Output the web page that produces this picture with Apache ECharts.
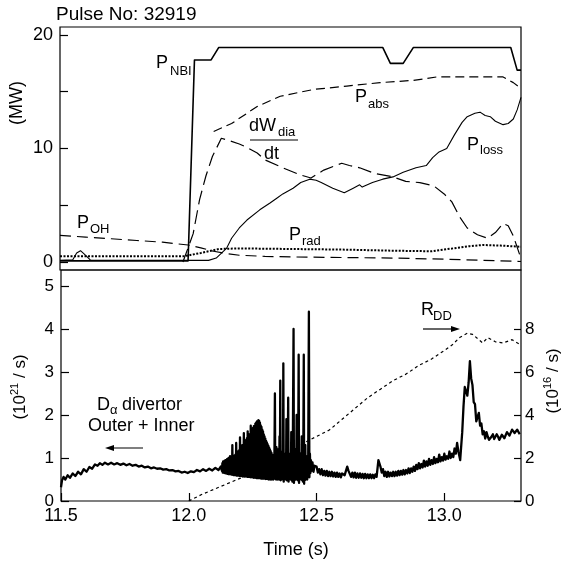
<!DOCTYPE html>
<html><head><meta charset="utf-8">
<script src="https://cdn.jsdelivr.net/npm/echarts@6/dist/echarts.min.js"></script>
<style>html,body{margin:0;padding:0;background:#fff}#c{width:562px;height:565px}</style>
</head><body><div id="c"></div>
<script>
// ---- Data (time in s, power in MW) ----
const timeTicks = [11.5, 12.0, 12.5, 13.0];
const mwTicks = [0, 5, 10, 15, 20];
const mwLabels = [0, 10, 20];
const leftTicks = [0, 1, 2, 3, 4, 5];
const rightTicks = [0, 2, 4, 6, 8];

const pNBI = [[11.5,0.1],[12.0,0.1],[12.025,17.8],[12.09,17.8],[12.12,18.9],[12.76,18.9],[12.79,17.5],[12.84,17.5],[12.88,18.9],[13.26,18.9],[13.285,16.9],[13.3,16.9]];
const pAbs = [[12.10,11.5],[12.17,12.2],[12.27,13.7],[12.36,14.6],[12.49,15.2],[12.62,15.5],[12.75,15.8],[12.88,16.0],[12.97,16.3],[13.23,16.3],[13.27,15.8],[13.3,15.3]];
const dWdt = [[11.98,0.0],[12.02,2.5],[12.045,5.5],[12.07,7.6],[12.095,9.3],[12.13,10.9],[12.16,10.7],[12.2,10.4],[12.23,10.1],[12.27,9.6],[12.3,9.0],[12.37,8.3],[12.435,7.7],[12.48,7.4],[12.53,8.1],[12.6,8.7],[12.63,8.5],[12.67,8.3],[12.73,7.8],[12.8,7.5],[12.85,7.1],[12.905,7.0],[12.96,6.7],[13.0,6.0],[13.03,5.3],[13.06,4.0],[13.09,3.0],[13.13,2.4],[13.17,2.1],[13.2,2.6],[13.23,3.4],[13.25,3.2],[13.27,2.3],[13.3,0.3]];
const pLoss = [[11.5,0.15],[11.55,0.2],[11.565,0.8],[11.58,1.0],[11.595,0.7],[11.62,0.15],[12.08,0.15],[12.11,0.35],[12.15,1.2],[12.17,2.1],[12.2,3.0],[12.23,3.7],[12.28,4.6],[12.32,5.2],[12.345,5.6],[12.37,6.0],[12.41,6.5],[12.44,7.0],[12.475,7.3],[12.5,7.2],[12.52,7.0],[12.565,6.5],[12.61,6.1],[12.645,6.5],[12.67,6.8],[12.68,6.6],[12.72,7.0],[12.76,7.3],[12.8,7.5],[12.84,7.9],[12.89,8.3],[12.93,8.5],[12.955,9.2],[12.98,9.7],[13.01,10.0],[13.04,11.2],[13.07,12.3],[13.09,12.8],[13.12,13.1],[13.14,13.2],[13.16,12.9],[13.18,12.8],[13.2,12.4],[13.23,12.1],[13.25,12.2],[13.27,12.6],[13.285,13.4],[13.3,14.5]];
const pOH = [[11.5,2.35],[11.6,2.2],[11.7,2.05],[11.8,1.9],[11.9,1.75],[12.0,1.5],[12.05,1.25],[12.1,0.95],[12.15,0.75],[12.2,0.6],[12.3,0.5],[12.4,0.45],[12.6,0.4],[12.8,0.35],[13.0,0.25],[13.2,0.12],[13.3,0.05]];
const pRad = [[11.5,0.5],[11.98,0.5],[12.05,0.8],[12.12,1.15],[12.2,1.2],[12.4,1.15],[12.6,1.1],[12.8,1.0],[12.95,0.95],[13.0,1.1],[13.05,1.25],[13.1,1.4],[13.15,1.5],[13.22,1.45],[13.3,1.35]];

// D-alpha divertor (10^21 /s): calm start
const dAlphaStart = [[11.500,0.32],[11.504,0.48],[11.510,0.56],[11.517,0.50],[11.526,0.60],[11.535,0.54],[11.546,0.64],[11.556,0.58],[11.567,0.68],[11.578,0.62],[11.589,0.74],[11.600,0.68],[11.611,0.79],[11.622,0.75],[11.633,0.85],[11.643,0.82],[11.652,0.88],[11.662,0.84],[11.672,0.89],[11.684,0.85],[11.696,0.89],[11.708,0.85],[11.720,0.88],[11.732,0.84],[11.744,0.87],[11.756,0.83],[11.768,0.86],[11.780,0.82],[11.792,0.84],[11.804,0.80],[11.816,0.82],[11.828,0.78],[11.840,0.80],[11.852,0.76],[11.864,0.78],[11.876,0.75],[11.888,0.76],[11.900,0.73],[11.912,0.74],[11.924,0.71],[11.936,0.72],[11.948,0.69],[11.960,0.70],[11.972,0.66],[11.984,0.68],[11.996,0.65],[12.008,0.69],[12.020,0.67],[12.032,0.72],[12.044,0.69],[12.056,0.74],[12.068,0.70],[12.080,0.75],[12.092,0.71],[12.104,0.77],[12.116,0.72],[12.125,0.80]];
// dense ELM band
const dAlphaElmBand = [[12.1300,0.70],[12.1315,0.88],[12.1330,0.66],[12.1345,0.92],[12.1360,0.68],[12.1375,0.90],[12.1390,0.65],[12.1405,0.94],[12.1420,0.67],[12.1435,0.95],[12.1450,0.64],[12.1465,0.93],[12.1480,0.66],[12.1495,0.97],[12.1510,0.63],[12.1525,0.96],[12.1540,0.65],[12.1555,1.00],[12.1570,0.62],[12.1585,0.99],[12.1600,0.64],[12.1615,1.04],[12.1630,0.62],[12.1645,1.00],[12.1660,0.63],[12.1675,1.03],[12.1690,0.61],[12.1705,1.30],[12.1720,0.63],[12.1735,1.02],[12.1750,0.60],[12.1765,1.04],[12.1780,0.62],[12.1795,1.06],[12.1810,0.60],[12.1825,1.08],[12.1840,0.62],[12.1855,1.35],[12.1870,0.59],[12.1885,1.10],[12.1900,0.61],[12.1915,1.14],[12.1930,0.59],[12.1945,1.16],[12.1960,0.61],[12.1975,1.18],[12.1990,0.58],[12.2005,1.48],[12.2020,0.60],[12.2035,1.22],[12.2050,0.58],[12.2065,1.26],[12.2080,0.60],[12.2095,1.30],[12.2110,0.57],[12.2125,1.30],[12.2140,0.59],[12.2155,1.58],[12.2170,0.57],[12.2185,1.38],[12.2200,0.59],[12.2215,1.36],[12.2230,0.57],[12.2245,1.42],[12.2260,0.58],[12.2275,1.46],[12.2290,0.56],[12.2305,1.62],[12.2320,0.58],[12.2335,1.50],[12.2350,0.56],[12.2365,1.55],[12.2380,0.57],[12.2395,1.54],[12.2410,0.55],[12.2425,1.75],[12.2440,0.57],[12.2455,1.62],[12.2470,0.55],[12.2485,1.64],[12.2500,0.56],[12.2515,1.70],[12.2530,0.54],[12.2545,1.74],[12.2560,0.56],[12.2575,1.72],[12.2590,0.54],[12.2605,1.80],[12.2620,0.55],[12.2635,1.82],[12.2650,0.53],[12.2665,1.85],[12.2680,0.55],[12.2695,1.83],[12.2710,0.53],[12.2725,1.88],[12.2740,0.55],[12.2755,1.86],[12.2770,0.53],[12.2785,1.82],[12.2800,0.54],[12.2815,1.76],[12.2830,0.52],[12.2845,1.72],[12.2860,0.54],[12.2875,1.66],[12.2890,0.52],[12.2905,1.62],[12.2920,0.54],[12.2935,1.55],[12.2950,0.52],[12.2965,1.50],[12.2980,0.53],[12.2995,1.45],[12.3010,0.51],[12.3025,1.40],[12.3040,0.53],[12.3055,1.36],[12.3070,0.51],[12.3085,1.32],[12.3100,0.52],[12.3115,1.28],[12.3130,0.50],[12.3145,1.24],[12.3160,0.52],[12.3175,1.20],[12.3190,0.50],[12.3205,1.16],[12.3220,0.52],[12.3235,1.12],[12.3250,0.50],[12.3265,1.08],[12.3280,0.52],[12.3295,1.05],[12.3310,0.50],[12.3325,1.02],[12.3340,0.52]];
// giant ELM spikes
const dAlphaSpikes = [[12.3355,1.30],[12.3370,2.50],[12.3385,0.55],[12.3400,1.15],[12.3415,0.50],[12.3430,1.25],[12.3445,0.52],[12.3460,1.05],[12.3475,0.50],[12.3490,1.20],[12.3505,0.52],[12.3520,1.00],[12.3535,0.50],[12.3550,1.50],[12.3565,0.55],[12.3580,2.80],[12.3595,0.48],[12.3610,1.10],[12.3625,0.50],[12.3640,1.00],[12.3655,0.52],[12.3670,1.15],[12.3685,0.50],[12.3700,3.20],[12.3715,0.45],[12.3730,1.05],[12.3745,0.50],[12.3760,0.95],[12.3775,0.55],[12.3790,1.10],[12.3805,0.50],[12.3820,1.90],[12.3835,0.48],[12.3850,1.00],[12.3865,0.50],[12.3890,2.40],[12.3905,0.45],[12.3920,1.05],[12.3935,0.50],[12.3950,0.95],[12.3965,0.55],[12.3980,1.10],[12.3995,0.50],[12.4010,1.60],[12.4025,0.48],[12.4040,1.00],[12.4055,0.45],[12.4070,1.20],[12.4100,4.00],[12.4115,0.42],[12.4130,1.00],[12.4145,0.48],[12.4160,1.20],[12.4175,0.50],[12.4190,0.95],[12.4205,0.52],[12.4220,2.00],[12.4235,0.50],[12.4250,1.00],[12.4265,0.48],[12.4280,1.10],[12.4300,3.40],[12.4315,0.42],[12.4330,1.05],[12.4345,0.50],[12.4360,1.10],[12.4375,0.52],[12.4390,0.95],[12.4405,0.50],[12.4420,1.50],[12.4435,0.48],[12.4450,1.00],[12.4465,0.45],[12.4480,1.05],[12.4500,3.40],[12.4515,0.40],[12.4530,1.10],[12.4545,0.48],[12.4560,1.30],[12.4575,0.50],[12.4590,1.00],[12.4605,0.55],[12.4620,0.95],[12.4635,0.50],[12.4650,1.05],[12.4670,0.55],[12.4700,4.40],[12.4720,0.55],[12.4740,1.10],[12.4760,0.65],[12.4780,0.95],[12.4800,0.70],[12.4840,0.90],[12.4880,0.68],[12.4920,0.82]];
// calm end and late burst
const dAlphaEnd = [[12.50,0.80],[12.505,0.66],[12.51,0.74],[12.515,0.62],[12.52,0.74],[12.525,0.60],[12.53,0.70],[12.535,0.59],[12.54,0.70],[12.545,0.58],[12.55,0.68],[12.555,0.58],[12.56,0.68],[12.565,0.57],[12.57,0.66],[12.575,0.56],[12.58,0.66],[12.585,0.56],[12.59,0.64],[12.595,0.55],[12.60,0.64],[12.61,0.60],[12.62,0.80],[12.625,0.70],[12.63,0.66],[12.635,0.56],[12.64,0.66],[12.645,0.55],[12.65,0.66],[12.655,0.54],[12.66,0.64],[12.665,0.54],[12.67,0.64],[12.675,0.54],[12.68,0.63],[12.685,0.53],[12.69,0.63],[12.695,0.53],[12.70,0.62],[12.705,0.53],[12.71,0.62],[12.715,0.53],[12.72,0.61],[12.725,0.53],[12.73,0.62],[12.735,0.56],[12.742,0.95],[12.75,0.80],[12.755,0.66],[12.76,0.74],[12.765,0.58],[12.77,0.68],[12.775,0.56],[12.78,0.68],[12.785,0.57],[12.79,0.66],[12.795,0.58],[12.80,0.68],[12.805,0.58],[12.81,0.68],[12.815,0.59],[12.82,0.70],[12.825,0.60],[12.83,0.70],[12.835,0.61],[12.84,0.72],[12.845,0.62],[12.85,0.72],[12.855,0.64],[12.86,0.76],[12.865,0.65],[12.87,0.76],[12.875,0.68],[12.88,0.80],[12.885,0.70],[12.89,0.84],[12.895,0.74],[12.90,0.88],[12.905,0.76],[12.91,0.86],[12.915,0.78],[12.92,0.94],[12.925,0.80],[12.93,0.92],[12.935,0.82],[12.94,0.98],[12.945,0.84],[12.95,0.95],[12.955,0.86],[12.96,1.02],[12.965,0.88],[12.97,0.98],[12.975,0.90],[12.98,1.08],[12.985,0.92],[12.99,1.02],[12.995,0.94],[13.00,1.10],[13.005,0.96],[13.01,1.04],[13.015,0.98],[13.02,1.15],[13.025,1.00],[13.03,1.10],[13.035,1.02],[13.04,1.22],[13.045,1.10],[13.05,1.35],[13.055,1.15],[13.062,0.95],[13.07,1.60],[13.075,2.20],[13.08,2.65],[13.085,2.55],[13.09,2.45],[13.095,2.75],[13.10,3.25],[13.105,2.85],[13.11,2.70],[13.115,2.30],[13.12,2.25],[13.125,1.85],[13.13,1.95],[13.135,2.05],[13.14,1.75],[13.145,1.80],[13.15,1.55],[13.155,1.62],[13.16,1.45],[13.165,1.60],[13.17,1.50],[13.175,1.42],[13.18,1.40],[13.185,1.50],[13.19,1.55],[13.195,1.44],[13.20,1.45],[13.205,1.55],[13.21,1.50],[13.215,1.42],[13.22,1.42],[13.225,1.54],[13.23,1.55],[13.235,1.46],[13.24,1.50],[13.245,1.60],[13.25,1.62],[13.255,1.52],[13.26,1.55],[13.265,1.66],[13.27,1.68],[13.275,1.58],[13.28,1.58],[13.285,1.66],[13.29,1.62],[13.295,1.55]];

// R_DD neutron rate (10^16 /s)
const rDD = [[12.0,0.0],[12.05,0.3],[12.1,0.55],[12.15,0.8],[12.2,1.05],[12.25,1.3],[12.3,1.55],[12.35,1.9],[12.4,2.3],[12.45,2.7],[12.5,3.0],[12.55,3.3],[12.6,3.8],[12.65,4.3],[12.7,4.8],[12.75,5.2],[12.8,5.6],[12.85,5.9],[12.9,6.3],[12.95,6.6],[13.0,7.0],[13.03,7.25],[13.06,7.6],[13.09,7.8],[13.11,7.75],[13.13,7.55],[13.15,7.35],[13.17,7.6],[13.2,7.4],[13.23,7.35],[13.265,7.5],[13.3,7.25]];

const dAlpha = dAlphaStart.concat(dAlphaElmBand, dAlphaSpikes, dAlphaEnd);

// ---- Chart ----
const FF = '"Liberation Sans", Arial, Helvetica, sans-serif';
const chart = echarts.init(document.getElementById('c'), null, {renderer: 'canvas'});

function txt(x, y, s, size, align) {
  return {type: 'text', x: x, y: y, silent: true,
    style: {text: s, fill: '#000', fontSize: size, fontFamily: FF, align: align || 'left', verticalAlign: 'middle'}};
}
function hline(x1, x2, y) {
  return {type: 'line', silent: true, shape: {x1: x1, y1: y, x2: x2, y2: y}, style: {stroke: '#000', lineWidth: 1.2}};
}
function head(points) {
  return {type: 'polygon', silent: true, shape: {points: points}, style: {fill: '#000'}};
}
function lineSeries(name, data, xi, yi, width, dash) {
  return {name: name, type: 'line', xAxisIndex: xi, yAxisIndex: yi, data: data, symbol: 'none',
    showSymbol: false, animation: false, silent: true, sampling: null,
    lineStyle: {color: '#000', width: width, type: dash || 'solid', join: 'round'}};
}

const axisBase = {axisLine: {show: false}, splitLine: {show: false}};

const option = {
  animation: false,
  backgroundColor: '#fff',
  grid: [
    {left: 60, top: 27, width: 461, height: 243, show: true, borderColor: '#000', borderWidth: 1.2, backgroundColor: 'transparent'},
    {left: 61, top: 270, width: 460, height: 231, show: true, borderColor: '#000', borderWidth: 1.2, backgroundColor: 'transparent'}
  ],
  xAxis: [
    Object.assign({type: 'value', gridIndex: 0, min: 11.5, max: 13.3,
      axisTick: {show: false}, axisLabel: {show: false}}, axisBase),
    Object.assign({type: 'value', gridIndex: 1, min: 11.5, max: 13.3,
      axisTick: {show: true, inside: true, length: 8, customValues: timeTicks, lineStyle: {color: '#000', width: 1.2}},
      axisLabel: {show: true, customValues: timeTicks, margin: 6, color: '#000', fontSize: 18, fontFamily: FF,
        formatter: function (v) { return v.toFixed(1); }}}, axisBase)
  ],
  yAxis: [
    Object.assign({type: 'value', gridIndex: 0, min: -0.7, max: 20.7,
      axisTick: {show: true, inside: true, length: 8, customValues: mwTicks, lineStyle: {color: '#000', width: 1.2}},
      axisLabel: {show: true, customValues: mwLabels, margin: 7, color: '#000', fontSize: 18, fontFamily: FF}}, axisBase),
    Object.assign({type: 'value', gridIndex: 1, min: 0, max: 5.37, position: 'left',
      axisTick: {show: true, inside: true, length: 8, customValues: leftTicks, lineStyle: {color: '#000', width: 1.2}},
      axisLabel: {show: true, customValues: leftTicks, margin: 7, color: '#000', fontSize: 17, fontFamily: FF}}, axisBase),
    Object.assign({type: 'value', gridIndex: 1, min: 0, max: 10.74, position: 'right',
      axisTick: {show: true, inside: true, length: 7, customValues: rightTicks, lineStyle: {color: '#000', width: 1.2}},
      axisLabel: {show: true, customValues: rightTicks, margin: 4, color: '#000', fontSize: 17, fontFamily: FF}}, axisBase)
  ],
  series: [
    lineSeries('P_OH', pOH, 0, 0, 1.2, [11, 6]),
    lineSeries('P_rad', pRad, 0, 0, 2, [2, 1.5]),
    lineSeries('P_NBI', pNBI, 0, 0, 1.6),
    lineSeries('P_abs', pAbs, 0, 0, 1.2, [9, 5]),
    lineSeries('dWdt', dWdt, 0, 0, 1.2, [14, 6]),
    lineSeries('P_loss', pLoss, 0, 0, 1.1),
    lineSeries('R_DD', rDD, 1, 2, 1.2, [3, 3]),
    lineSeries('D_alpha', dAlpha, 1, 1, 2.3)
  ],
  graphic: [
    txt(56, 15, 'Pulse No: 32919', 19),
    {type: 'text', x: 17, y: 103, rotation: Math.PI / 2, silent: true,
      style: {text: '(MW)', fill: '#000', fontSize: 18, fontFamily: FF, align: 'center', verticalAlign: 'middle'}},
    // top panel labels
    txt(156, 63, 'P', 18), txt(170, 71, 'NBI', 13),
    txt(355, 97, 'P', 18), txt(368, 104, 'abs', 13),
    txt(249, 126, 'dW', 18), txt(278, 132, 'dia', 13), hline(250, 298, 140), txt(264, 154, 'dt', 18),
    txt(467, 145, 'P', 18), txt(480, 150, 'loss', 13),
    txt(77, 223, 'P', 18), txt(90, 229, 'OH', 13),
    txt(289, 235, 'P', 18), txt(302, 241, 'rad', 13),
    // bottom panel labels
    txt(97, 405, 'D', 18), txt(110, 410, 'α', 13), txt(122, 405, 'divertor', 18),
    txt(88, 426, 'Outer + Inner', 18),
    hline(110, 143, 448), head([[105, 448], [114, 445], [114, 451]]),
    txt(421, 310, 'R', 18), txt(433, 316, 'DD', 13),
    hline(423, 452, 329), head([[460, 329], [451, 326], [451, 332]]),
    {type: 'text', x: 20, y: 387, rotation: Math.PI / 2, silent: true,
      style: {text: '{n|(10}{p|21}{n| / s)}', fill: '#000', align: 'center', verticalAlign: 'middle',
        rich: {n: {fontSize: 17, fontFamily: FF, lineHeight: 22, fill: '#000'}, p: {fontSize: 11, fontFamily: FF, verticalAlign: 'top', lineHeight: 12, fill: '#000'}}}},
    {type: 'text', x: 553, y: 381, rotation: Math.PI / 2, silent: true,
      style: {text: '{n|(10}{p|16}{n| / s)}', fill: '#000', align: 'center', verticalAlign: 'middle',
        rich: {n: {fontSize: 17, fontFamily: FF, lineHeight: 22, fill: '#000'}, p: {fontSize: 11, fontFamily: FF, verticalAlign: 'top', lineHeight: 12, fill: '#000'}}}},
    txt(296, 550, 'Time (s)', 18, 'center')
  ]
};
chart.setOption(option);
</script>
</body></html>
